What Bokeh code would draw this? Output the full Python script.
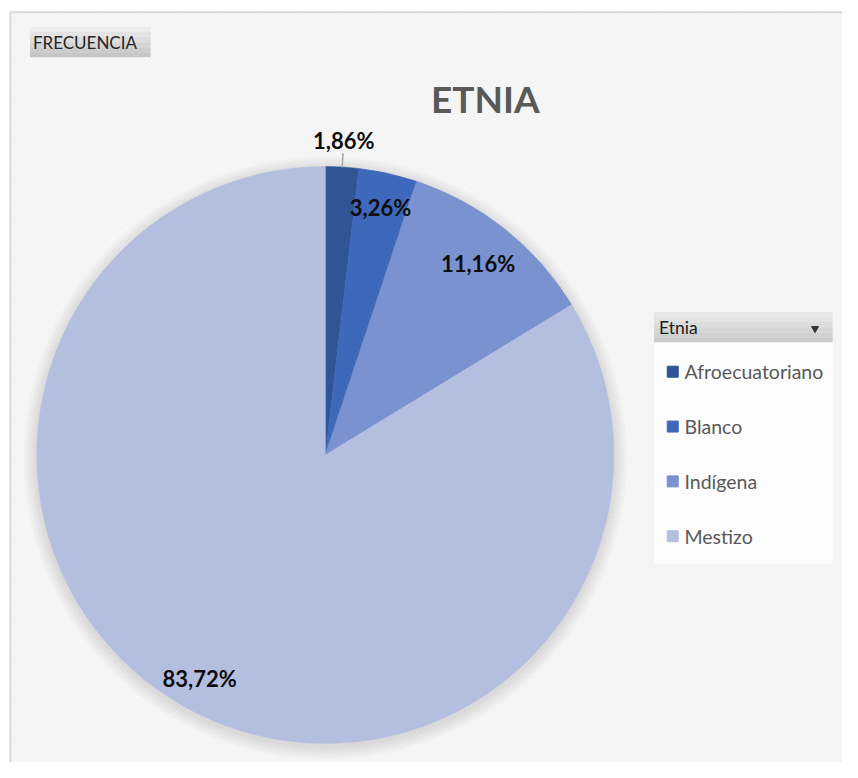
import math
from bokeh.plotting import figure
from bokeh.models import ColumnDataSource, Range1d
from bokeh.core.properties import value
from bokeh.embed import file_html
from bokeh.resources import INLINE

# ---- data ----
categories = ["Afroecuatoriano", "Blanco", "Indígena", "Mestizo"]
percentages = [1.86, 3.26, 11.16, 83.72]
labels = ["1,86%", "3,26%", "11,16%", "83,72%"]
colors = ["#2F5597", "#3E69BA", "#7A92D0", "#B4BFE0"]
title_text = "ETNIA"
legend_title = "Etnia"
button_text = "FRECUENCIA"

W, H = 842, 762
RW, RH = 858, 778
FONT = "Lato"

def X(px):
    return px

def Y(py):
    return RH - py

p = figure(width=W, height=H, output_backend="svg", toolbar_location=None,
           x_range=Range1d(0, RW), y_range=Range1d(0, RH), min_border=0)
p.axis.visible = False
p.grid.visible = False
p.outline_line_color = None
p.background_fill_color = "white"
p.border_fill_color = "white"

# chart area with diagonal pattern
p.quad(left=[X(10)], right=[X(880)], top=[Y(12)], bottom=[Y(800)],
       fill_color="#fdfdfd", line_color="#d9d9d9", line_width=2,
       hatch_pattern="\\", hatch_color="#f1f1f1", hatch_scale=5, hatch_weight=1.5)

# FRECUENCIA button (gradient)
btn_cols = ["#ececec", "#e4e4e4", "#dcdcdc", "#d4d4d4", "#cccccc", "#c6c6c6"]
bt, bb = 27, 58
step = (bb - bt) / len(btn_cols)
for i, c in enumerate(btn_cols):
    p.quad(left=[X(30)], right=[X(153)], top=[Y(bt + i * step)], bottom=[Y(bt + (i + 1) * step)],
           fill_color=c, line_color=None)
p.text(x=[X(33)], y=[Y(43)], text=[button_text], text_font=value(FONT), text_font_size="17px",
       text_color="#262626", text_align="left", text_baseline="middle")

# title
p.text(x=[X(494)], y=[Y(100)], text=[title_text], text_font=value(FONT), text_font_size="37px",
       text_font_style="bold", text_color="#595959", text_align="center", text_baseline="middle")

# pie
cx, cy, R = X(331), Y(464), 294
# soft shadow
for k in range(14, 0, -1):
    p.circle(x=[cx], y=[cy - 3], radius=R + k, fill_color="#808080", fill_alpha=0.018, line_color=None)

total = sum(percentages)
cum = [0]
for v in percentages:
    cum.append(cum[-1] + v / total)
start = [math.pi / 2 - 2 * math.pi * cum[i] for i in range(len(percentages))]
end = [math.pi / 2 - 2 * math.pi * cum[i + 1] for i in range(len(percentages))]
src = ColumnDataSource(dict(cat=categories, start=start, end=end, color=colors))
p.wedge(x=cx, y=cy, radius=R, start_angle="start", end_angle="end", direction="clock",
        fill_color="color", line_color="color", line_width=0.5, source=src)

# labels along mid angles
rfac = [1.095, 0.88, 0.85, 0.89]
mid = [math.pi / 2 - 2 * math.pi * (cum[i] + cum[i + 1]) / 2 for i in range(len(percentages))]
lx = [cx + R * rfac[i] * math.cos(mid[i]) for i in range(len(mid))]
ly = [cy + R * rfac[i] * math.sin(mid[i]) for i in range(len(mid))]
p.text(x=lx, y=ly, text=labels, text_font=value(FONT), text_font_size="22px",
       text_font_style="bold", text_color="#0d0d0d", text_align="center", text_baseline="middle")
# leader line for outside label
p.segment(x0=[cx + R * 1.0 * math.cos(mid[0])], y0=[cy + R * 1.0 * math.sin(mid[0])],
          x1=[cx + R * 1.05 * math.cos(mid[0])], y1=[cy + R * 1.05 * math.sin(mid[0])],
          line_color="#a6a6a6", line_width=1.5)

# legend box
p.quad(left=[X(666)], right=[X(848)], top=[Y(349)], bottom=[Y(575)],
       fill_color="#fdfdfd", line_color=None)
hdr_cols = ["#e8e8e8", "#e2e2e2", "#dcdcdc", "#d6d6d6", "#d0d0d0", "#cacaca"]
ht, hb = 318, 349
step = (hb - ht) / len(hdr_cols)
for i, c in enumerate(hdr_cols):
    p.quad(left=[X(666)], right=[X(848)], top=[Y(ht + i * step)], bottom=[Y(ht + (i + 1) * step)],
           fill_color=c, line_color=None)
p.text(x=[X(671)], y=[Y(334)], text=[legend_title], text_font=value(FONT), text_font_size="17.5px",
       text_color="#1a1a1a", text_align="left", text_baseline="middle")
p.scatter(x=[X(830)], y=[Y(335)], marker="inverted_triangle", size=7,
          fill_color="#333333", line_color="#333333")

ly0, ldy = 379, 56
leg_y = [Y(ly0 + i * ldy) for i in range(len(categories))]
p.scatter(x=[X(685)] * len(categories), y=leg_y, marker="square", size=11,
          fill_color=colors, line_color=colors)
p.text(x=[X(697)] * len(categories), y=leg_y, text=categories, text_font=value(FONT),
       text_font_size="19.5px", text_color="#595959", text_align="left", text_baseline="middle")

open("out.html", "w").write(file_html(p, INLINE))
